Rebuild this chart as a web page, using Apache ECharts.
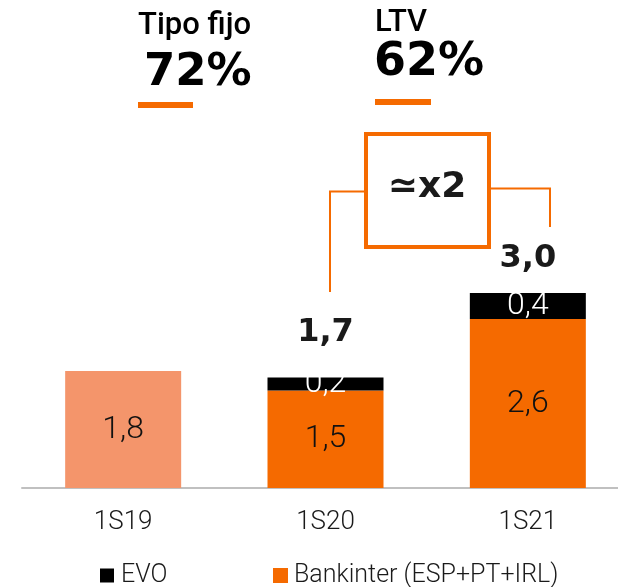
<!DOCTYPE html>
<html>
<head>
<meta charset="utf-8">
<script src="https://cdn.jsdelivr.net/npm/echarts@6/dist/echarts.min.js"></script>
<style>
  html, body { margin: 0; padding: 0; background: #fff; }
  #main { width: 618px; height: 587px; }
</style>
</head>
<body>
<div id="main"></div>
<script>
// data
var periods = ["1S19", "1S20", "1S21"];
var bankinter = [1.8, 1.5, 2.6];
var evo = [null, 0.2, 0.4];
var totals = [null, 1.7, 3.0];

var ORANGE = "#F56A00";
var LIGHT = "#F4956B";
var THIN = "Roboto";
var HEAVY = "DejaVu Sans";

// gap between bar top and the total label, per bar
var totalGap = [0, 29, 18];

function fmt(v) {
    return v == null ? "" : Number(v).toFixed(1).replace(".", ",");
}

var chart = echarts.init(document.getElementById("main"));

var legendText = { fontFamily: THIN, fontWeight: 300, fontSize: 25, color: "#1a1a1a" };

var option = {
    animation: false,
    grid: { left: 22, right: -11, top: 228, bottom: 99, outerBoundsMode: "none" },
    legend: [
        {
            data: [{ name: "EVO", itemStyle: { color: "#000" } }],
            left: 100, top: 563, padding: 0,
            icon: "rect", itemWidth: 14, itemHeight: 14, itemGap: 0,
            textStyle: Object.assign({ padding: [0, 0, 0, 2] }, legendText),
        },
        {
            data: [{ name: "Bankinter (ESP+PT+IRL)", itemStyle: { color: ORANGE } }],
            left: 273, top: 563, padding: 0,
            icon: "rect", itemWidth: 15, itemHeight: 15, itemGap: 0,
            textStyle: Object.assign({ padding: [0, 0, 0, 1] }, legendText),
        },
    ],
    xAxis: {
        type: "category",
        data: periods,
        axisTick: { show: false },
        axisLine: { lineStyle: { color: "#c0c0c0", width: 2 } },
        axisLabel: { fontFamily: THIN, fontWeight: 300, fontSize: 26, color: "#1a1a1a", margin: 21 },
    },
    yAxis: { type: "value", min: 0, max: 4, show: false, splitLine: { show: false } },
    series: [
        {
            name: "Bankinter (ESP+PT+IRL)",
            type: "bar",
            stack: "a",
            barWidth: 116,
            data: bankinter,
            itemStyle: { color: function (p) { return p.dataIndex === 0 ? LIGHT : ORANGE; } },
            label: {
                show: true, position: "inside",
                fontFamily: THIN, fontWeight: 300, fontSize: 32, color: "#111",
                formatter: function (p) { return fmt(p.value); },
            },
        },
        {
            name: "EVO",
            type: "bar",
            stack: "a",
            barWidth: 116,
            data: evo,
            itemStyle: { color: "#000" },
            label: {
                show: true, position: "inside",
                fontFamily: THIN, fontWeight: 300, fontSize: 32, color: "#fff",
                formatter: function (p) { return fmt(p.value); },
            },
        },
        {
            name: "total",
            type: "bar",
            barWidth: 116,
            barGap: "-100%",
            data: totals.map(function (v, i) {
                return { value: v, label: { distance: totalGap[i] } };
            }),
            itemStyle: { color: "rgba(0,0,0,0)" },
            label: {
                show: true, position: "top",
                fontFamily: HEAVY, fontWeight: "bold", fontSize: 32, color: "#1a1a1a",
                formatter: function (p) { return fmt(p.value); },
            },
            z: 1,
        },
    ],
    graphic: [
        { type: "text", left: 138, top: 11, style: { text: "Tipo fijo", fontFamily: THIN, fontWeight: 500, fontSize: 31, fill: "#000" } },
        { type: "text", left: 144, top: 51, style: { text: "72%", fontFamily: HEAVY, fontWeight: "bold", fontSize: 45, fill: "#000" } },
        { type: "rect", shape: { x: 138, y: 102, width: 55, height: 6 }, style: { fill: ORANGE } },

        { type: "text", left: 375, top: 8, style: { text: "LTV", fontFamily: THIN, fontWeight: 500, fontSize: 31, fill: "#000" } },
        { type: "text", left: 374, top: 40, style: { text: "62%", fontFamily: HEAVY, fontWeight: "bold", fontSize: 46, fill: "#000" } },
        { type: "rect", shape: { x: 375, y: 99, width: 56, height: 6 }, style: { fill: ORANGE } },

        { type: "polyline", shape: { points: [[330, 292], [330, 191.5], [364, 191.5]] }, style: { stroke: ORANGE, lineWidth: 2, fill: null } },
        { type: "polyline", shape: { points: [[491, 188.5], [550, 188.5], [550, 227]] }, style: { stroke: ORANGE, lineWidth: 2, fill: null } },
        { type: "rect", shape: { x: 366, y: 134, width: 123, height: 113 }, style: { fill: "#fff", stroke: ORANGE, lineWidth: 4 } },
        { type: "text", x: 427, y: 188, style: { text: "\u2243x2", fontFamily: HEAVY, fontWeight: "bold", fontSize: 36, fill: "#1a1a1a", align: "center", verticalAlign: "middle" } },
    ],
};

chart.setOption(option);
</script>
</body>
</html>
